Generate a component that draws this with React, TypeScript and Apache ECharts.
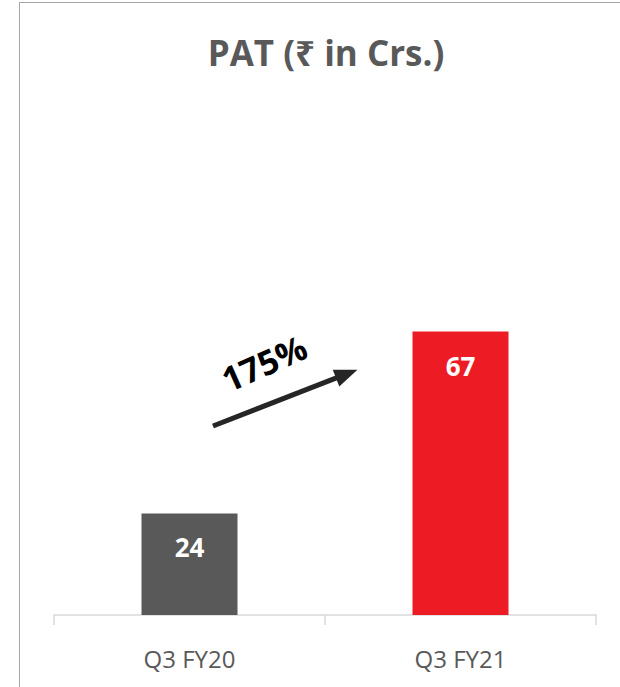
import React, { useEffect, useRef } from "react";
import * as echarts from "echarts";

const categories = ["Q3 FY20", "Q3 FY21"];
const patValues = [24, 67];
const barColors = ["#595959", "#ED1C24"];
const titleText = "PAT (₹ in Crs.)";
const growthText = "175%";

export default function App() {
  const ref = useRef<HTMLDivElement>(null);
  useEffect(() => {
    document.body.style.margin = "0";
    const chart = echarts.init(ref.current!, null, { renderer: "svg" });
    const font = "'Open Sans', 'Noto Sans', sans-serif";
    chart.setOption({
      animation: false,
      backgroundColor: "#ffffff",
      title: {
        text: titleText,
        left: 321,
        textAlign: "center",
        top: 30,
        textStyle: { fontFamily: font, fontSize: 35, fontWeight: "bold", color: "#595959" },
      },
      grid: { left: 54, right: 24, top: 192, bottom: 72 },
      xAxis: {
        type: "category",
        data: categories,
        axisLine: { lineStyle: { color: "#d9d9d9", width: 1.5 } },
        axisTick: { show: true, length: 10, lineStyle: { color: "#d9d9d9", width: 1.5 } },
        axisLabel: { fontFamily: font, fontSize: 24, color: "#595959", margin: 31 },
      },
      yAxis: { type: "value", min: 0, max: 100, show: false, splitLine: { show: false } },
      series: [
        {
          type: "bar",
          data: patValues.map((v, i) => ({ value: v, itemStyle: { color: barColors[i] } })),
          barWidth: 96,
          label: {
            show: true,
            position: "insideTop",
            distance: 21,
            fontFamily: font,
            fontSize: 26,
            fontWeight: "bold",
            color: "#ffffff",
          },
        },
      ],
      graphic: [
        { type: "line", shape: { x1: 19.5, y1: 2, x2: 19.5, y2: 687 }, style: { stroke: "#a6a6a6", lineWidth: 1 } },
        { type: "line", shape: { x1: 19, y1: 2.5, x2: 620, y2: 2.5 }, style: { stroke: "#a6a6a6", lineWidth: 1 } },
        {
          type: "group",
          x: 213,
          y: 426,
          rotation: (21.3 * Math.PI) / 180,
          children: [
            { type: "line", shape: { x1: 0, y1: 0, x2: 140, y2: 0 }, style: { stroke: "#262626", lineWidth: 5 } },
            { type: "polygon", shape: { points: [[132, -9], [155, 0], [132, 9]] }, style: { fill: "#262626" } },
          ],
        },
        {
          type: "text",
          x: 264,
          y: 363,
          rotation: (24 * Math.PI) / 180,
          style: {
            text: growthText,
            fontFamily: font,
            fontSize: 34,
            fontWeight: "bold",
            fill: "#000000",
            align: "center",
            verticalAlign: "middle",
          },
        },
      ],
    });
    return () => chart.dispose();
  }, []);
  return <div ref={ref} style={{ position: "absolute", left: 0, top: 0, width: 620, height: 687 }} />;
}
